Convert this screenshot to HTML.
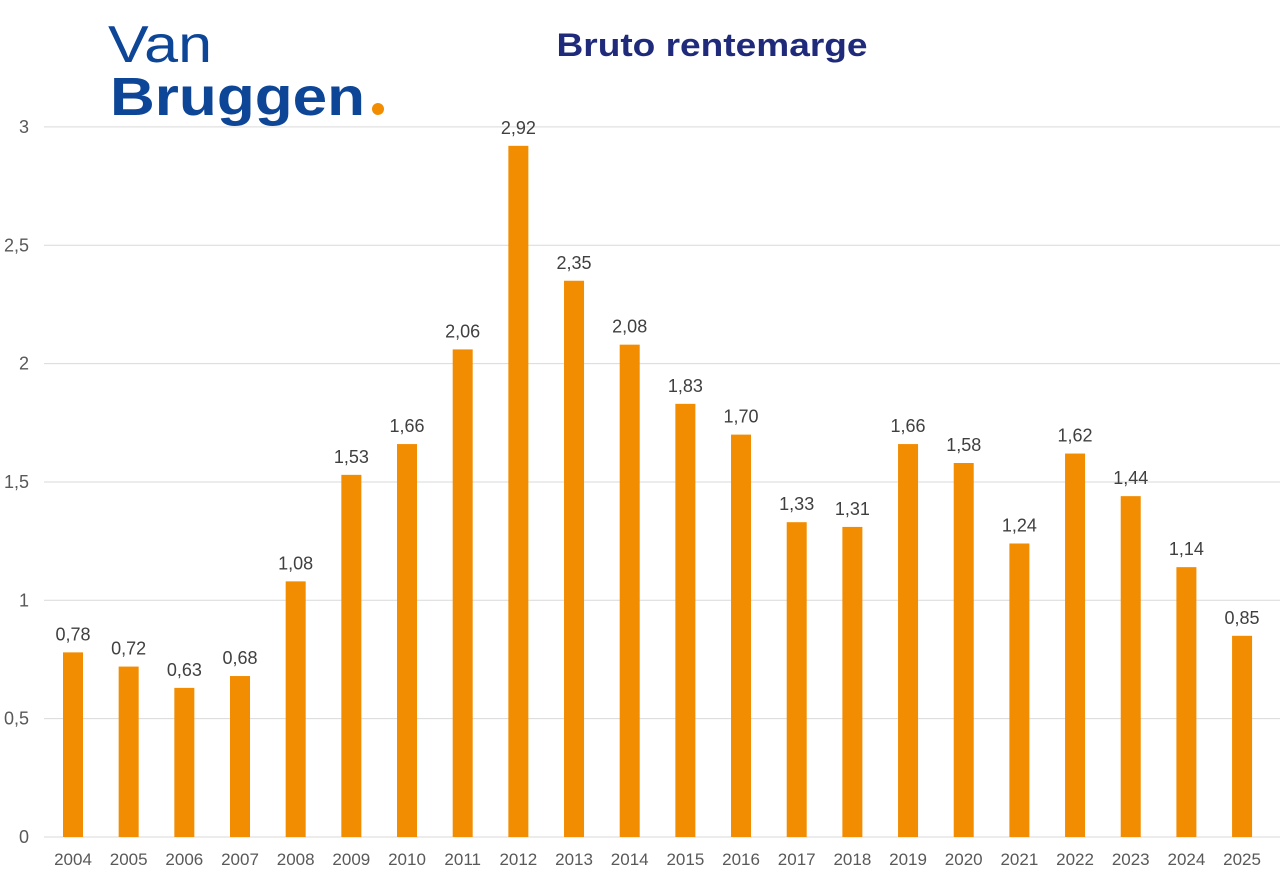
<!DOCTYPE html>
<html><head><meta charset="utf-8"><style>
body{margin:0;background:#fff;width:1280px;height:889px;overflow:hidden;font-family:"Liberation Sans",Arial,sans-serif}
svg{display:block}
</style></head><body>
<svg id="c" width="1280" height="889">
<g>
<text x="108" y="62" font-size="52" fill="#0d4597" font-family="Liberation Sans" textLength="104" lengthAdjust="spacingAndGlyphs">Van</text>
<text x="110" y="115" font-size="54" font-weight="bold" fill="#0d4597" font-family="Liberation Sans" textLength="255" lengthAdjust="spacingAndGlyphs">Bruggen</text>
<circle cx="378" cy="109" r="6" fill="#f28c00"/>
</g>
<text x="712" y="56" text-anchor="middle" font-size="32" font-weight="bold" fill="#1f2a7a" textLength="311" lengthAdjust="spacingAndGlyphs">Bruto rentemarge</text>
<g id="grid"></g><g id="bars"></g>
</svg>
<script>
const categories=["2004","2005","2006","2007","2008","2009","2010","2011","2012","2013","2014","2015","2016","2017","2018","2019","2020","2021","2022","2023","2024","2025"];
const values=[0.78,0.72,0.63,0.68,1.08,1.53,1.66,2.06,2.92,2.35,2.08,1.83,1.70,1.33,1.31,1.66,1.58,1.24,1.62,1.44,1.14,0.85];
const labels=["0,78","0,72","0,63","0,68","1,08","1,53","1,66","2,06","2,92","2,35","2,08","1,83","1,70","1,33","1,31","1,66","1,58","1,24","1,62","1,44","1,14","0,85"];
const ticks=[0,0.5,1,1.5,2,2.5,3];
const tickLabels=["0","0,5","1","1,5","2","2,5","3"];
const ns="http://www.w3.org/2000/svg";
const y=v=>837-v*236.7;
const x=i=>73+i*55.67;
const g=document.getElementById('grid'),b=document.getElementById('bars');
function mk(t,a,p){const e=document.createElementNS(ns,t);for(const k in a)e.setAttribute(k,a[k]);p.appendChild(e);return e;}
ticks.forEach((t,i)=>{
 const l=mk('line',{x1:44,x2:1280,y1:y(t),y2:y(t),stroke:'#d9d9d9','stroke-width':1},g);
 
 
 const tx=mk('text',{x:29,y:y(t)+6,'text-anchor':'end','font-size':18,fill:'#595959'},g);
 tx.textContent=tickLabels[i];
 
 
});
values.forEach((v,i)=>{
 const r=mk('rect',{x:x(i)-10,y:y(v),width:20,height:837-y(v),fill:'#f28c00'},b);
 
 
 const t=mk('text',{x:x(i),y:y(v)-12,'text-anchor':'middle','font-size':18,fill:'#404040'},b);
 t.textContent=labels[i];
 
 
 const c=mk('text',{x:x(i),y:865,'text-anchor':'middle','font-size':17,fill:'#595959'},b);
 c.textContent=categories[i];
 
 
});
</script>
</body></html>
